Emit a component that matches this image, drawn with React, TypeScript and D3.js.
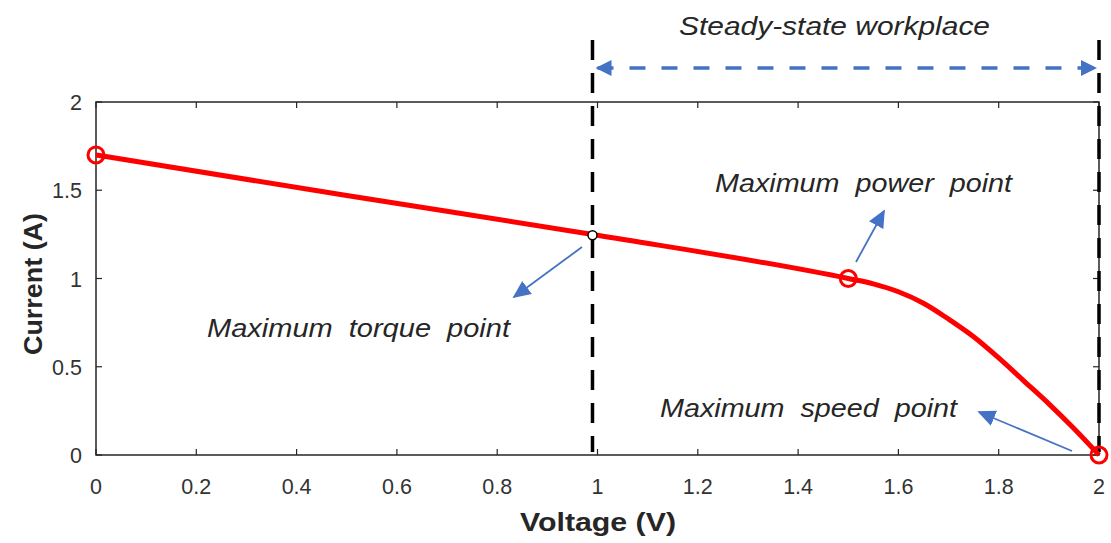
import React from "react";
import * as d3 from "d3";

const voltage = [0, 0.5, 1.0, 1.5, 1.55, 1.6, 1.65, 1.7, 1.75, 1.8, 1.85, 1.9, 1.95, 2.0];
const current = [1.7, 1.47, 1.245, 1.0, 0.97, 0.925, 0.86, 0.77, 0.67, 0.55, 0.42, 0.29, 0.15, 0];
const redMarkersV = [0, 1.5, 2.0];
const redMarkersI = [1.7, 1.0, 0];
const torqueV = 0.99;
const torqueI = 1.245;
const xTicks = [0, 0.2, 0.4, 0.6, 0.8, 1, 1.2, 1.4, 1.6, 1.8, 2];
const yTicks = [0, 0.5, 1, 1.5, 2];
const steadyRange = [0.99, 2.0];

const W = 1111;
const H = 543;
const x = d3.scaleLinear().domain([0, 2]).range([96, 1099]);
const y = d3.scaleLinear().domain([0, 2]).range([455, 102]);

const FONT = "'Liberation Sans', Arial, Helvetica, sans-serif";
const BLUE = "#4472C4";
const AXIS = "#262626";

export default function App() {
  const line = d3
    .line<number>()
    .x((_, i) => x(voltage[i]))
    .y((d) => y(d))
    .curve(d3.curveMonotoneX);
  const fmt = (v: number) => (v === 0 ? "0" : String(+v.toFixed(1)));
  const x0 = x(0), x1 = x(2), y0 = y(0), y1 = y(2);
  const tl = 6;

  return (
    <svg width={W} height={H} style={{ position: "absolute", left: 0, top: 0, background: "#fff" }}>
      <defs>
        <marker id="sh" viewBox="0 0 10 10" refX="9" refY="5" markerWidth="10" markerHeight="10" orient="auto" markerUnits="strokeWidth">
          <path d="M0,0.5 L10,5 L0,9.5 z" fill={BLUE} />
        </marker>
      </defs>
      <rect x={0} y={0} width={W} height={H} fill="#fff" />
      {/* axes box */}
      <rect x={x0} y={y1} width={x1 - x0} height={y0 - y1} fill="none" stroke={AXIS} strokeWidth={1.5} />
      {xTicks.map((t) => (
        <g key={"x" + t}>
          <line x1={x(t)} x2={x(t)} y1={y0} y2={y0 - tl} stroke={AXIS} strokeWidth={1.2} />
          <line x1={x(t)} x2={x(t)} y1={y1} y2={y1 + tl} stroke={AXIS} strokeWidth={1.2} />
          <text x={x(t)} y={y0 + 39} textAnchor="middle" fontFamily={FONT} fontSize={21.5} fill="#333">
            {fmt(t)}
          </text>
        </g>
      ))}
      {yTicks.map((t) => (
        <g key={"y" + t}>
          <line x1={x0} x2={x0 + tl} y1={y(t)} y2={y(t)} stroke={AXIS} strokeWidth={1.2} />
          <line x1={x1} x2={x1 - tl} y1={y(t)} y2={y(t)} stroke={AXIS} strokeWidth={1.2} />
          <text x={x0 - 14} y={y(t) + 8} textAnchor="end" fontFamily={FONT} fontSize={21.5} fill="#333">
            {fmt(t)}
          </text>
        </g>
      ))}
      <text x={598} y={531} textAnchor="middle" fontFamily={FONT} fontSize={25} fontWeight="bold" fill={AXIS} textLength={156} lengthAdjust="spacingAndGlyphs">
        Voltage (V)
      </text>
      <text transform={`translate(42,284) rotate(-90)`} textAnchor="middle" fontFamily={FONT} fontSize={25} fontWeight="bold" fill={AXIS} textLength={142} lengthAdjust="spacingAndGlyphs">
        Current (A)
      </text>

      {/* vertical dashed lines */}
      {steadyRange.map((v) => (
        <line key={"v" + v} x1={x(v)} x2={x(v)} y1={40} y2={452} stroke="#000" strokeWidth={3.5} strokeDasharray="20,13" />
      ))}
      {/* steady-state arrow */}
      <line x1={x(steadyRange[0]) + 5} x2={x(steadyRange[1]) - 3} y1={68} y2={68} stroke={BLUE} strokeWidth={3.5} strokeDasharray="16,16" />
      <path d={`M${x(steadyRange[0]) + 3},68 l16,-8 l0,16 z`} fill={BLUE} />
      <path d={`M${x(steadyRange[1]) - 2},68 l-16,-8 l0,16 z`} fill={BLUE} />
      <text x={679} y={35} fontFamily={FONT} fontStyle="italic" fontSize={25} fill={AXIS} textLength={311} lengthAdjust="spacingAndGlyphs">
        Steady-state workplace
      </text>

      {/* curve */}
      <path d={line(current) || ""} fill="none" stroke="#ff0000" strokeWidth={5} />
      {redMarkersV.map((v, i) => (
        <circle key={"m" + i} cx={x(v)} cy={y(redMarkersI[i])} r={8} fill="none" stroke="#ff0000" strokeWidth={3} />
      ))}
      <circle cx={x(torqueV)} cy={y(torqueI)} r={4.5} fill="#fff" stroke="#000" strokeWidth={1.5} />

      {/* annotation arrows */}
      <line x1={582} y1={247} x2={514} y2={297} stroke={BLUE} strokeWidth={1.8} markerEnd="url(#sh)" />
      <line x1={856} y1={262} x2={884} y2={211} stroke={BLUE} strokeWidth={1.8} markerEnd="url(#sh)" />
      <line x1={1072} y1={451} x2={979} y2={412} stroke={BLUE} strokeWidth={1.8} markerEnd="url(#sh)" />

      <text x={207} y={337} fontFamily={FONT} fontStyle="italic" fontSize={25} fill={AXIS} textLength={303} lengthAdjust="spacingAndGlyphs" style={{ whiteSpace: "pre" }}>
        {"Maximum  torque  point"}
      </text>
      <text x={715} y={192} fontFamily={FONT} fontStyle="italic" fontSize={25} fill={AXIS} textLength={297} lengthAdjust="spacingAndGlyphs" style={{ whiteSpace: "pre" }}>
        {"Maximum  power  point"}
      </text>
      <text x={660} y={417} fontFamily={FONT} fontStyle="italic" fontSize={25} fill={AXIS} textLength={297} lengthAdjust="spacingAndGlyphs" style={{ whiteSpace: "pre" }}>
        {"Maximum  speed  point"}
      </text>
    </svg>
  );
}
